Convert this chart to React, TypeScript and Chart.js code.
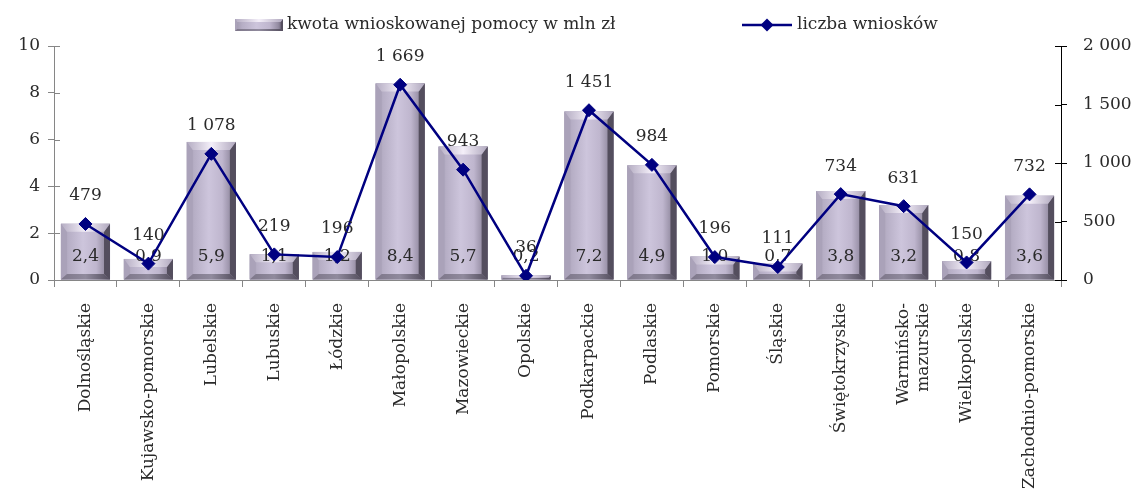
import React, { useEffect, useRef } from "react";
import { Chart, registerables } from "chart.js";

Chart.register(...registerables);

// ---- data ----
const categories: (string | string[])[] = [
  "Dolnośląskie",
  "Kujawsko-pomorskie",
  "Lubelskie",
  "Lubuskie",
  "Łódzkie",
  "Małopolskie",
  "Mazowieckie",
  "Opolskie",
  "Podkarpackie",
  "Podlaskie",
  "Pomorskie",
  "Śląskie",
  "Świętokrzyskie",
  ["Warmińsko-", "mazurskie"],
  "Wielkopolskie",
  "Zachodnio-pomorskie",
];
const kwota = [2.4, 0.9, 5.9, 1.1, 1.2, 8.4, 5.7, 0.2, 7.2, 4.9, 1.0, 0.7, 3.8, 3.2, 0.8, 3.6];
const liczba = [479, 140, 1078, 219, 196, 1669, 943, 36, 1451, 984, 196, 111, 734, 631, 150, 732];
const barLabel = "kwota wnioskowanej pomocy w mln zł";
const lineLabel = "liczba wniosków";
const leftAxis = { min: 0, max: 10, step: 2 };
const rightAxis = { min: 0, max: 2000, step: 500 };

// ---- style ----
const FONT_FAMILY = '"DejaVu Serif", serif';
const FONT_SIZE = 17;
const TEXT_COLOR = "#2a2a2a";
const LINE_COLOR = "#000080";
const AXIS_GRAY = "#868686";

const fmtInt = (n: number) => String(Math.round(n)).replace(/\B(?=(\d{3})+(?!\d))/g, " ");
const fmtDec = (n: number) => n.toFixed(1).replace(".", ",");

function poly(ctx: CanvasRenderingContext2D, pts: number[][], fill: string | CanvasGradient) {
  ctx.beginPath();
  ctx.moveTo(pts[0][0], pts[0][1]);
  for (let i = 1; i < pts.length; i++) ctx.lineTo(pts[i][0], pts[i][1]);
  ctx.closePath();
  ctx.fillStyle = fill;
  ctx.fill();
}

function drawBevelBar(
  ctx: CanvasRenderingContext2D,
  x0: number,
  x1: number,
  top: number,
  bottom: number,
  bevel: number
) {
  const w = x1 - x0;
  const h = bottom - top;
  if (h <= 0 || w <= 0) return;
  const b = Math.min(bevel, h / 2, w / 2);
  const bSide = Math.min(b * 0.75, w / 2);
  const bBottom = Math.min(b * 0.7, h / 2);
  ctx.save();
  const g = ctx.createLinearGradient(x0, 0, x1, 0);
  g.addColorStop(0, "#9d96ab");
  g.addColorStop(0.15, "#b6aec5");
  g.addColorStop(0.45, "#cdc5dc");
  g.addColorStop(0.72, "#bfb6ce");
  g.addColorStop(0.9, "#948ca2");
  g.addColorStop(1, "#5e576a");
  ctx.fillStyle = g;
  ctx.fillRect(x0, top, w, h);
  // left bevel
  poly(ctx, [[x0, top], [x0 + bSide, top + b], [x0 + bSide, bottom - bBottom], [x0, bottom]], "#aaa2b9");
  // right bevel
  poly(ctx, [[x1, top], [x1 - bSide, top + b], [x1 - bSide, bottom - bBottom], [x1, bottom]], "#544e5e");
  // top bevel
  const gt = ctx.createLinearGradient(x0, 0, x1, 0);
  gt.addColorStop(0, "#b4acc2");
  gt.addColorStop(0.5, "#f4eff9");
  gt.addColorStop(1, "#b0a8be");
  poly(ctx, [[x0, top], [x1, top], [x1 - bSide, top + b], [x0 + bSide, top + b]], gt);
  // bottom bevel
  const gb = ctx.createLinearGradient(x0, 0, x1, 0);
  gb.addColorStop(0, "#7d7689");
  gb.addColorStop(0.5, "#908a9d");
  gb.addColorStop(1, "#524c5c");
  poly(ctx, [[x0, bottom], [x1, bottom], [x1 - bSide, bottom - bBottom], [x0 + bSide, bottom - bBottom]], gb);
  ctx.restore();
}

const bevelBarsPlugin = {
  id: "bevelBars",
  afterDatasetDraw(chart: any, args: any) {
    const meta = args.meta;
    if (meta.type !== "bar") return;
    const ctx: CanvasRenderingContext2D = chart.ctx;
    const yScale = chart.scales[meta.yAxisID];
    const basePx = yScale.getPixelForValue(0);
    meta.data.forEach((el: any) => {
      const p = el.getProps(["x", "y", "base", "width"], true);
      drawBevelBar(ctx, p.x - p.width / 2, p.x + p.width / 2, p.y, p.base, 8);
    });
    // value labels inside bars, near the bottom
    ctx.save();
    ctx.font = `${FONT_SIZE}px ${FONT_FAMILY}`;
    ctx.fillStyle = TEXT_COLOR;
    ctx.textAlign = "center";
    ctx.textBaseline = "middle";
    meta.data.forEach((el: any, i: number) => {
      const p = el.getProps(["x"], true);
      ctx.fillText(fmtDec(chart.data.datasets[args.index].data[i]), p.x, basePx - 23);
    });
    ctx.restore();
  },
};

const lineLabelsPlugin = {
  id: "lineLabels",
  afterDatasetsDraw(chart: any) {
    const ctx: CanvasRenderingContext2D = chart.ctx;
    chart.data.datasets.forEach((ds: any, di: number) => {
      const meta = chart.getDatasetMeta(di);
      if (meta.type !== "line") return;
      ctx.save();
      ctx.font = `${FONT_SIZE}px ${FONT_FAMILY}`;
      ctx.fillStyle = TEXT_COLOR;
      ctx.textAlign = "center";
      ctx.textBaseline = "middle";
      meta.data.forEach((el: any, i: number) => {
        const p = el.getProps(["x", "y"], true);
        ctx.fillText(fmtInt(ds.data[i]), p.x, p.y - 28);
      });
      ctx.restore();
    });
  },
};

const innerTicksPlugin = {
  id: "innerTicks",
  beforeDatasetsDraw(chart: any) {
    const ctx: CanvasRenderingContext2D = chart.ctx;
    const area = chart.chartArea;
    ctx.save();
    ctx.lineWidth = 1;
    const y = chart.scales.y;
    ctx.strokeStyle = AXIS_GRAY;
    y.ticks.forEach((t: any) => {
      const py = Math.round(y.getPixelForValue(t.value)) + 0.5;
      ctx.beginPath();
      ctx.moveTo(area.left, py);
      ctx.lineTo(area.left + 6, py);
      ctx.stroke();
    });
    const y1 = chart.scales.y1;
    ctx.strokeStyle = "#000000";
    y1.ticks.forEach((t: any) => {
      const py = Math.round(y1.getPixelForValue(t.value)) + 0.5;
      ctx.beginPath();
      ctx.moveTo(area.right - 6, py);
      ctx.lineTo(area.right, py);
      ctx.stroke();
    });
    ctx.restore();
  },
};

const customLegendPlugin = {
  id: "customLegend",
  afterDraw(chart: any) {
    const ctx: CanvasRenderingContext2D = chart.ctx;
    ctx.save();
    const cy = 25;
    // bar swatch
    drawBevelBar(ctx, 235, 283, 19, 31, 3);
    ctx.font = `${FONT_SIZE}px ${FONT_FAMILY}`;
    ctx.fillStyle = TEXT_COLOR;
    ctx.textAlign = "left";
    ctx.textBaseline = "middle";
    ctx.fillText(chart.data.datasets[0].label, 287, cy);
    // line swatch
    ctx.strokeStyle = LINE_COLOR;
    ctx.lineWidth = 2.5;
    ctx.beginPath();
    ctx.moveTo(742, cy);
    ctx.lineTo(792, cy);
    ctx.stroke();
    ctx.fillStyle = LINE_COLOR;
    ctx.beginPath();
    ctx.moveTo(767, cy - 6.5);
    ctx.lineTo(773.5, cy);
    ctx.lineTo(767, cy + 6.5);
    ctx.lineTo(760.5, cy);
    ctx.closePath();
    ctx.fill();
    ctx.fillStyle = TEXT_COLOR;
    ctx.fillText(chart.data.datasets[1].label, 797, cy);
    ctx.restore();
  },
};

const whiteBgPlugin = {
  id: "whiteBg",
  beforeDraw(chart: any) {
    const ctx = chart.ctx;
    ctx.save();
    ctx.fillStyle = "#ffffff";
    ctx.fillRect(0, 0, chart.width, chart.height);
    ctx.restore();
  },
};

export default function App() {
  const canvasRef = useRef<HTMLCanvasElement | null>(null);

  useEffect(() => {
    if (!canvasRef.current) return;
    const font = { family: FONT_FAMILY, size: FONT_SIZE };
    const chart = new Chart(canvasRef.current, {
      type: "bar",
      data: {
        labels: categories as any,
        datasets: [
          {
            type: "bar",
            label: barLabel,
            data: kwota,
            yAxisID: "y",
            backgroundColor: "#b8b0c8",
            borderWidth: 0,
            categoryPercentage: 1,
            barPercentage: 0.78,
            order: 2,
          } as any,
          {
            type: "line",
            label: lineLabel,
            data: liczba,
            yAxisID: "y1",
            borderColor: LINE_COLOR,
            backgroundColor: LINE_COLOR,
            borderWidth: 2.5,
            pointStyle: "rectRot",
            pointRadius: 6.5,
            pointBackgroundColor: LINE_COLOR,
            pointBorderColor: LINE_COLOR,
            pointBorderWidth: 1,
            tension: 0,
            fill: false,
            order: 1,
          } as any,
        ],
      },
      options: {
        responsive: false,
        animation: false,
        devicePixelRatio: 1,
        layout: { padding: { top: 46, left: 0, right: 0, bottom: 0 } },
        plugins: {
          legend: { display: false },
          tooltip: { enabled: false },
        },
        scales: {
          x: {
            type: "category",
            offset: true,
            grid: {
              offset: true,
              drawOnChartArea: false,
              drawTicks: true,
              tickLength: 7,
              color: AXIS_GRAY,
            },
            border: { color: AXIS_GRAY, width: 1 },
            ticks: {
              minRotation: 90,
              maxRotation: 90,
              autoSkip: false,
              padding: 16,
              font,
              color: TEXT_COLOR,
            },
            afterFit(scale: any) {
              scale.height = 213;
            },
          },
          y: {
            type: "linear",
            position: "left",
            min: leftAxis.min,
            max: leftAxis.max,
            grid: {
              drawOnChartArea: false,
              drawTicks: true,
              tickLength: 6,
              color: AXIS_GRAY,
            },
            border: { color: AXIS_GRAY, width: 1 },
            ticks: {
              stepSize: leftAxis.step,
              padding: 8,
              font,
              color: TEXT_COLOR,
            },
            afterFit(scale: any) {
              scale.width = 54;
            },
          },
          y1: {
            type: "linear",
            position: "right",
            min: rightAxis.min,
            max: rightAxis.max,
            grid: {
              drawOnChartArea: false,
              drawTicks: true,
              tickLength: 6,
              color: "#000000",
            },
            border: { color: "#000000", width: 1 },
            ticks: {
              stepSize: rightAxis.step,
              padding: 16,
              font,
              color: TEXT_COLOR,
              callback: (v: any) => fmtInt(Number(v)),
            },
            afterFit(scale: any) {
              scale.width = 72;
            },
          },
        },
      } as any,
      plugins: [whiteBgPlugin, innerTicksPlugin, bevelBarsPlugin, lineLabelsPlugin, customLegendPlugin],
    });
    return () => chart.destroy();
  }, []);

  return (
    <div style={{ position: "absolute", left: 0, top: 0, width: 1133, height: 493, background: "#fff" }}>
      <canvas ref={canvasRef} width={1133} height={493} style={{ display: "block" }} />
    </div>
  );
}
